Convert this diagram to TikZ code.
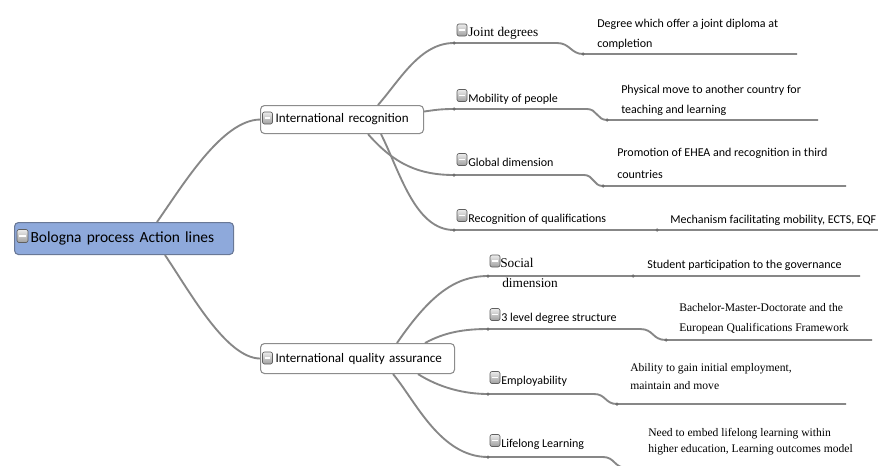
\documentclass[tikz,border=0pt]{standalone}
\usepackage{fontspec}
\setmainfont{Liberation Serif}
\newfontfamily\calfont{Carlito}
\newlength{\pxu}\setlength{\pxu}{0.75pt}
\definecolor{linegray}{RGB}{135,135,135}
\definecolor{dotgray}{RGB}{110,110,110}
\definecolor{boxgray}{RGB}{140,140,140}
\definecolor{rootfill}{RGB}{142,169,219}
\definecolor{rootedge}{RGB}{105,120,150}
\definecolor{icongray}{RGB}{95,95,95}
\tikzset{
  conn/.style={draw=linegray, line width=1.4pt},
  jdot/.style={circle, fill=dotgray, inner sep=0pt, minimum size=3.5\pxu},
  icon/.style={draw=icongray, line width=0.5pt, rounded corners=1.5pt,
    minimum width=10\pxu, minimum height=12\pxu, inner sep=0pt,
    top color=gray!15, bottom color=gray!75,
    path picture={\draw[white, line width=1pt]
      ([xshift=2.2\pxu]path picture bounding box.center -| path picture bounding box.west) --
      ([xshift=-2.2\pxu]path picture bounding box.center -| path picture bounding box.east);}},
  sanslbl/.style={font=\calfont\fontsize{9}{15}\selectfont, inner sep=0pt, anchor=base west, align=left},
  seriflbl/.style={font=\fontsize{10}{15}\selectfont, inner sep=0pt, anchor=base west, align=left},
  serifdesc/.style={font=\fontsize{8.7}{14}\selectfont, inner sep=0pt, anchor=base west, align=left},
  rootbox/.style={draw=rootedge, line width=0.8pt, fill=rootfill, rounded corners=3pt,
    anchor=north west, inner sep=0pt, align=left, font=\calfont\fontsize{11.6}{13}\selectfont},
  midbox/.style={draw=boxgray, line width=0.8pt, fill=white, rounded corners=3pt,
    anchor=north west, inner sep=0pt, align=left, font=\calfont\fontsize{9.8}{12}\selectfont},
}
\begin{document}
\begin{tikzpicture}[x=0.75pt,y=-0.75pt]
\clip (0,0) rectangle (878,465);
\fill[white] (0,0) rectangle (878,465);

% ---------- main boxes ----------
\node[rootbox, minimum width=219\pxu, minimum height=32\pxu, text width=219\pxu] (root) at (14,222)
  {\hspace*{16\pxu}Bologna process Action lines};
\node[icon, minimum width=11\pxu, minimum height=13\pxu] (rooti) at (22.5,236) {};

\node[midbox, minimum width=163\pxu, minimum height=28\pxu, text width=163\pxu] (ir) at (260,105)
  {\hspace*{15\pxu}International recognition};
\node[icon] (iri) at (267.5,118) {};

\node[midbox, minimum width=194\pxu, minimum height=30\pxu, text width=194\pxu] (iqa) at (260,343)
  {\hspace*{15\pxu}International quality assurance};
\node[icon] (iqai) at (267.5,358) {};

% ---------- root connectors ----------
\draw[conn] ([xshift=143\pxu]root.north west) .. controls (183,185) and (222,120) .. (ir.west);
\draw[conn] ([xshift=151\pxu]root.south west) .. controls (190,292) and (226,358) .. (iqa.west);

% ---------- level 2 labels ----------
\node[seriflbl] (jd) at (468,36) {Joint degrees};
\node[icon] (jdi) at (462,30) {};
\node[sanslbl] (mob) at (468,102) {Mobility of people};
\node[icon] (mobi) at (462,95.5) {};
\node[sanslbl] (glob) at (468,166) {Global dimension};
\node[icon] (globi) at (462,159.5) {};
\node[sanslbl] (rec) at (468,222) {Recognition of qualifications};
\node[icon] (reci) at (462,215.5) {};

\node[seriflbl] (soc) at (500,287) {Social\\\hspace*{2\pxu}dimension};
\node[icon] (soci) at (495,261) {};
\node[sanslbl] (three) at (501,321) {3 level degree structure};
\node[icon] (threei) at (495,314.5) {};
\node[sanslbl] (emp) at (501,384) {Employability};
\node[icon] (empi) at (495,377.5) {};
\node[sanslbl] (lll) at (501,447) {Lifelong Learning};
\node[icon] (llli) at (495,440.5) {};

% ---------- descriptions (anchor = baseline of last line) ----------
\node[sanslbl] (jdD) at (597,47) {Degree which offer a joint diploma at\\completion};
\node[sanslbl] (mobD) at (621,113) {Physical move to another country for\\teaching and learning};
\node[sanslbl, font=\calfont\fontsize{9}{16}\selectfont] (globD) at (617,178) {Promotion of EHEA and recognition in third\\countries};
\node[sanslbl] (recD) at (670,223) {Mechanism facilitating mobility, ECTS, EQF};
\node[sanslbl] (socD) at (647,268) {Student participation to the governance};
\node[serifdesc, font=\fontsize{8.7}{14.3}\selectfont] (threeD) at (679,331) {Bachelor-Master-Doctorate and the\\European Qualifications Framework};
\node[serifdesc, font=\fontsize{8.7}{12.8}\selectfont] (empD) at (630,389) {Ability to gain initial employment,\\maintain and move};
\node[serifdesc, font=\fontsize{8.7}{11.5}\selectfont] (lllD) at (648,452) {Need to embed lifelong learning within\\higher education, Learning outcomes model};

% ---------- junction coordinates ----------
\coordinate (jdA) at (454,43);  \coordinate (jdB) at (583,54);  \coordinate (jdC) at (797,54);
\coordinate (mobA) at (454,109); \coordinate (mobB) at (607,120); \coordinate (mobC) at (818,120);
\coordinate (globA) at (454,175); \coordinate (globB) at (603,186); \coordinate (globC) at (846,186);
\coordinate (recA) at (454,230); \coordinate (recB) at (657,230); \coordinate (recC) at (880,230);
\coordinate (socA) at (488,276); \coordinate (socB) at (633,276); \coordinate (socC) at (860,276);
\coordinate (threeA) at (488,329); \coordinate (threeB) at (666,340); \coordinate (threeC) at (872,340);
\coordinate (empA) at (488,394); \coordinate (empB) at (617,404); \coordinate (empC) at (846,404);
\coordinate (lllA) at (488,457); \coordinate (lllB) at (627,468); \coordinate (lllC) at (860,468);

% ---------- connectors from International recognition ----------
\draw[conn] ([xshift=118\pxu]ir.north west) .. controls (400,80) and (420,43) .. (jdA)
  -- (557,43) .. controls (570,43) and (571,54) .. (jdB) -- (jdC);
\draw[conn] ([yshift=8\pxu]ir.east) .. controls (435,110) and (440,109) .. (mobA)
  -- (587,109) .. controls (597,109) and (597,120) .. (mobB) -- (mobC);
\draw[conn] ([xshift=108\pxu]ir.south west) .. controls (395,165) and (420,175) .. (globA)
  -- (584,175) .. controls (594,175) and (593,186) .. (globB) -- (globC);
\draw[conn] ([xshift=121\pxu]ir.south west) .. controls (400,172) and (415,230) .. (recA)
  -- (recB) -- (recC);

% ---------- connectors from International quality assurance ----------
\draw[conn] ([xshift=137\pxu]iqa.north west) .. controls (430,295) and (455,276) .. (socA)
  -- (socB) -- (socC);
\draw[conn] ([xshift=165\pxu]iqa.north west) .. controls (445,332) and (465,329) .. (threeA)
  -- (640,329) .. controls (654,329) and (652,340) .. (threeB) -- (threeC);
\draw[conn] ([xshift=158\pxu]iqa.south west) .. controls (440,388) and (465,394) .. (empA)
  -- (594,394) .. controls (606,394) and (605,404) .. (empB) -- (empC);
\draw[conn] ([xshift=133\pxu]iqa.south west) .. controls (415,400) and (440,457) .. (lllA)
  -- (603,457) .. controls (615,457) and (614,468) .. (lllB) -- (lllC);

% ---------- junction dots ----------
\foreach \p in {jdA,jdB,mobA,mobB,globA,globB,recA,recB,socA,socB,threeA,threeB,empA,empB,lllA}
  \node[jdot] at (\p) {};
\end{tikzpicture}
\end{document}
